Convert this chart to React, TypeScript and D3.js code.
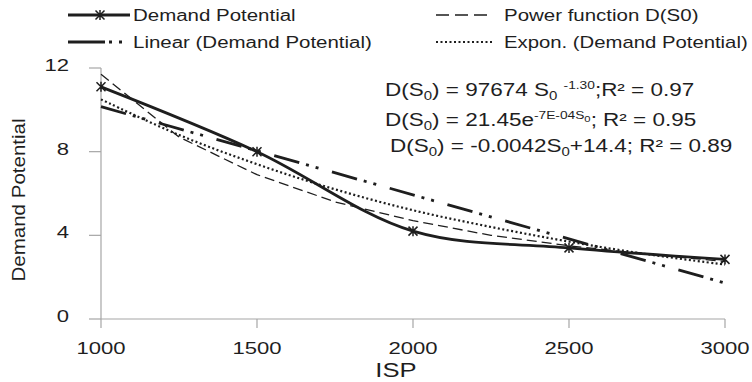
import React from 'react';
import * as d3 from 'd3';

// observed series
const isp = [1000, 1500, 2000, 2500, 3000];
const demand = [11.1, 8.0, 4.2, 3.4, 2.85];

// trend lines
const trendIsp = [1000, 1250, 1500, 1750, 2000, 2250, 2500, 2750, 3000];
const powerFit = [11.7, 8.7, 6.9, 5.6, 4.7, 4.0, 3.5, 3.1, 2.75];
const exponFit = [10.5, 8.8, 7.4, 6.2, 5.2, 4.4, 3.7, 3.1, 2.6];
const linearIsp = [1000, 3000];
const linearFit = [10.15, 1.72];

const xTicks = [1000, 1500, 2000, 2500, 3000];
const yTicks = [0, 4, 8, 12];

const W = 752;
const H = 382;
const FONT = 'Liberation Sans, Arial, sans-serif';
const INK = '#1e1e1e';
const AXIS = '#a6a6a6';
const SX = 1.3; // text in the picture is stretched sideways

const x = d3.scaleLinear().domain([1000, 3000]).range([101, 725]);
const y = d3.scaleLinear().domain([0, 12]).range([319, 68]);

type P = [number, number];
const zip = (xs: number[], ys: number[]): P[] => xs.map((v, i) => [v, ys[i]]);

const smooth = d3.line<P>().x((d) => x(d[0])).y((d) => y(d[1])).curve(d3.curveCatmullRom.alpha(0.5));
const straight = d3.line<P>().x((d) => x(d[0])).y((d) => y(d[1]));

const LINEAR_DASH = '26 7 3 7 3 14';
const POWER_DASH = '10 5';
const EXPON_DASH = '2 2.5';

const star = 'M-4.5,-4.5L4.5,4.5M-4.5,4.5L4.5,-4.5M0,-5V5';

function T({ x: tx, y: ty, size, anchor = 'start', sx = SX, rot = 0, children }: any) {
  return (
    <g transform={`translate(${tx},${ty}) rotate(${rot}) scale(${sx},1)`}>
      <text textAnchor={anchor} fontSize={size} fontFamily={FONT} fill={INK}>
        {children}
      </text>
    </g>
  );
}

const sub = (s: string) => (
  <tspan baselineShift={-4} fontSize={12}>{s}</tspan>
);
const sup = (s: string) => (
  <tspan baselineShift={7} fontSize={11}>{s}</tspan>
);

export default function App() {
  return (
    <svg width={W} height={H} style={{ position: 'absolute', left: 0, top: 0, background: '#fff' }}>
      {/* axes */}
      <line x1={x(1000)} x2={x(3000)} y1={y(0)} y2={y(0)} stroke={AXIS} strokeWidth={1.2} />
      <line x1={x(1000)} x2={x(1000)} y1={y(0)} y2={y(12)} stroke={AXIS} strokeWidth={1.2} />
      {xTicks.map((t) => (
        <g key={'x' + t}>
          <line x1={x(t)} x2={x(t)} y1={y(0)} y2={y(0) + 9} stroke={AXIS} strokeWidth={1.2} />
          <T x={x(t)} y={354} size={17} anchor="middle">{t}</T>
        </g>
      ))}
      {yTicks.map((t) => (
        <g key={'y' + t}>
          <line x1={x(1000) - 12} x2={x(1000)} y1={y(t)} y2={y(t)} stroke={AXIS} strokeWidth={1.2} />
          <T x={69} y={y(t) + 3} size={17} anchor="end">{t}</T>
        </g>
      ))}
      <T x={396} y={377} size={20} anchor="middle" sx={1.28}>ISP</T>
      <T x={25} y={200} size={19} anchor="middle" sx={1.08} rot={-90}>Demand Potential</T>

      {/* trend lines */}
      <path d={straight(zip(trendIsp, powerFit)) || ''} fill="none" stroke={INK} strokeWidth={1.3} strokeDasharray={POWER_DASH} />
      <path d={smooth(zip(trendIsp, exponFit)) || ''} fill="none" stroke={INK} strokeWidth={2.2} strokeDasharray={EXPON_DASH} />
      <path d={straight(zip(linearIsp, linearFit)) || ''} fill="none" stroke={INK} strokeWidth={2.8} strokeDasharray={LINEAR_DASH} />

      {/* demand potential */}
      <path d={smooth(zip(isp, demand)) || ''} fill="none" stroke={INK} strokeWidth={2.8} />
      {isp.map((v, i) => (
        <path key={v} d={star} transform={`translate(${x(v)},${y(demand[i])})`} stroke={INK} strokeWidth={1.5} fill="none" />
      ))}

      {/* legend */}
      <line x1={68} x2={130} y1={15} y2={15} stroke={INK} strokeWidth={2.8} />
      <path d={star} transform="translate(100,15)" stroke={INK} strokeWidth={1.5} fill="none" />
      <T x={133} y={21} size={16} sx={1.28}>Demand Potential</T>
      <line x1={436} x2={492} y1={15} y2={15} stroke={INK} strokeWidth={1.3} strokeDasharray="13 6" />
      <T x={504} y={21} size={16} sx={1.28}>Power function D(S0)</T>
      <line x1={68} x2={122} y1={42} y2={42} stroke={INK} strokeWidth={2.8} strokeDasharray="37 4 3 7 3 20" />
      <T x={133} y={48} size={16} sx={1.28}>Linear (Demand Potential)</T>
      <line x1={436} x2={492} y1={42} y2={42} stroke={INK} strokeWidth={2} strokeDasharray={EXPON_DASH} />
      <T x={504} y={48} size={16} sx={1.27}>Expon. (Demand Potential)</T>

      {/* equations */}
      <T x={385} y={96} size={18} sx={1.25}>
        D(S{sub('0')}) = 97674  S{sub('0')} {sup('-1.30')};R² = 0.97
      </T>
      <T x={385} y={126} size={18} sx={1.25}>
        D(S{sub('0')}) = 21.45e{sup('-7E-04S')}<tspan baselineShift={4} fontSize={9}>0</tspan>; R² = 0.95
      </T>
      <T x={390} y={152} size={18} sx={1.25}>
        D(S{sub('0')}) = -0.0042S{sub('0')}+14.4;  R² = 0.89
      </T>
    </svg>
  );
}
